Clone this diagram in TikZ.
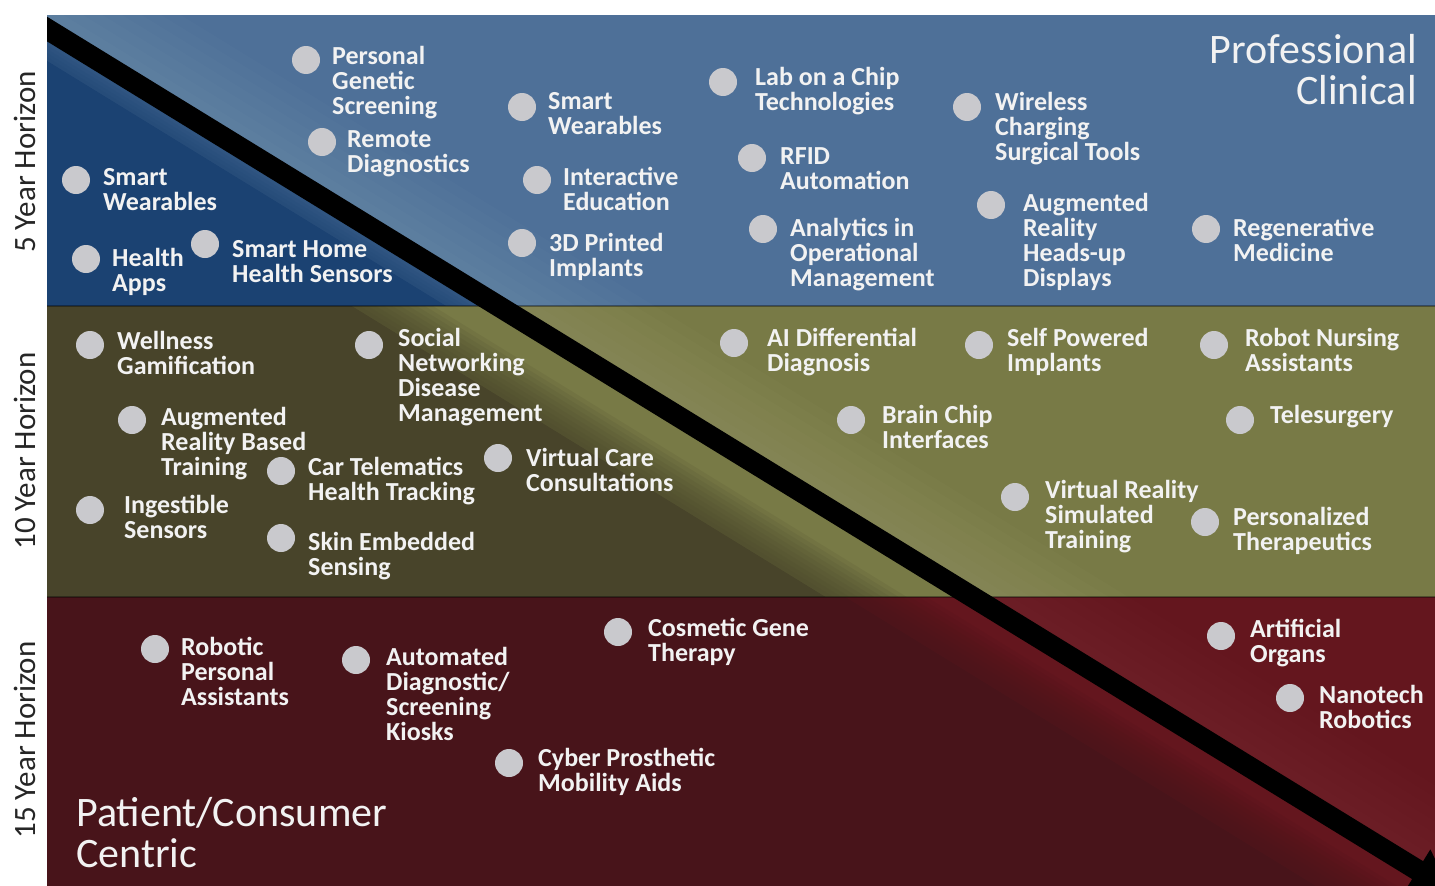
\documentclass[tikz,border=0pt]{standalone}
\usepackage{fontspec}
\setmainfont{Carlito}
\usetikzlibrary{positioning,arrows.meta,calc}
\definecolor{blueL}{HTML}{4E7098}
\definecolor{blueD}{HTML}{1B4272}
\definecolor{oliveL}{HTML}{787A46}
\definecolor{oliveD}{HTML}{48442A}
\definecolor{redL}{HTML}{64161E}
\definecolor{redD}{HTML}{48141A}
\definecolor{bulletgray}{HTML}{C9C9CD}
\definecolor{labelwhite}{HTML}{F2F2F2}
\tikzset{
  dot/.style={circle, fill=bulletgray, minimum size=28pt, inner sep=0pt},
  lbl/.style={anchor=north west, inner sep=0pt, align=left, text=labelwhite,
              font=\bfseries\fontsize{26}{25}\selectfont},
  corner/.style={inner sep=0pt, text=labelwhite, font=\fontsize{42}{41}\selectfont},
  horizon/.style={rotate=90, inner sep=0pt, text=black!85, font=\fontsize{31}{31}\selectfont},
  trend/.style={line width=21pt, -{Triangle[length=38pt,width=46pt]}},
}

\begin{document}
\begin{tikzpicture}[x=1pt, y=-1pt]
  \useasboundingbox (0,0) rectangle (1435,886);
  \clip (0,0) rectangle (1435,886);
  \fill[white] (0,0) rectangle (1435,886);

  % diagonal, used for the shaded halves
  \coordinate (la) at (40,24.7);
  \coordinate (lb) at (1445,887.5);

  % three horizon bands, dark below the diagonal
  \foreach \top/\bot/\lite/\dark/\o/\f/\g in {15/306/blueL/blueD/-8/4/0.014,
                                             306/597/oliveL/oliveD/40/5/0.014,
                                             597/886/redL/redD/28/5/0.009}{
    \begin{scope}
      \clip (47,\top) rectangle (1435,\bot);
      \fill[\lite] (47,\top) rectangle (1435,\bot);
      \foreach \k in {1,...,8}
        \fill[white, opacity=\g] (la) -- (lb) -- ($(lb)+(0,-12*\k)$) -- ($(la)+(0,-12*\k)$) -- cycle;
      \fill[\dark] ($(la)+(0,\o+10*\f)$) -- ($(lb)+(0,\o+10*\f)$) -- (1445,900) -- (40,900) -- cycle;
      \foreach \k in {0,...,9}
        \fill[\dark, opacity=0.12] ($(la)+(0,\o+\f*\k)$) -- ($(lb)+(0,\o+\f*\k)$) -- (1445,900) -- (40,900) -- cycle;
    \end{scope}
  }
  \draw[black, opacity=0.35, line width=2pt] (47,306) -- (1435,306);
  \draw[black, opacity=0.35, line width=2pt] (47,597) -- (1435,597);

  % trend arrow
  \coordinate (start) at (30,18.6);
  \coordinate (tip) at (1450,890);
  \begin{scope}
    \clip (47,15) rectangle (1435,886);
    \draw[trend] (start) -- (tip);
  \end{scope}

  % horizon labels
  \node[horizon] (h5) at (25,162) {5 Year Horizon};
  \node[horizon] (h10) at (25,451) {10 Year Horizon};
  \node[horizon] (h15) at (25,740) {15 Year Horizon};

  % sector titles
  \node[corner, anchor=north east, align=right] (prof) at (1417,34) {Professional\\Clinical};
  \node[corner, anchor=north west, align=left] (patient) at (76,797) {Patient/Consumer\\Centric};

  % technologies: dot x/y, label x/y, text
  \foreach \x/\y/\tx/\ty/\txt [count=\i] in {
      306/60/332/46/{Personal\\Genetic\\Screening},
      322/142/347/130/{Remote\\Diagnostics},
      76/180/103/168/{Smart\\Wearables},
      86/259/112/248/{Health\\Apps},
      205/244/232/240/{Smart Home\\Health Sensors},
      522/107/548/92/{Smart\\Wearables},
      537/180/563/167/{Interactive\\Education},
      522/243/549/233/{3D Printed\\Implants},
      723/82/755/67/{Lab on a Chip\\Technologies},
      752/158/780/147/{RFID\\Automation},
      763/229/790/218/{Analytics in\\Operational\\Management},
      967/107/995/92/{Wireless\\Charging\\Surgical Tools},
      991/205/1023/193/{Augmented\\Reality\\Heads-up\\Displays},
      1206/229/1233/218/{Regenerative\\Medicine},
      90/345/117/331/{Wellness\\Gamification},
      369/345/398/328/{Social\\Networking\\Disease\\Management},
      132/420/161/407/{Augmented\\Reality Based\\Training},
      281/471/308/457/{Car Telematics\\Health Tracking},
      498/458/526/448/{Virtual Care\\Consultations},
      90/510/124/495/{Ingestible\\Sensors},
      281/538/308/532/{Skin Embedded\\Sensing},
      734/343/767/328/{AI Differential\\Diagnosis},
      979/345/1007/328/{Self Powered\\Implants},
      1214/345/1245/328/{Robot Nursing\\Assistants},
      851/420/882/405/{Brain Chip\\Interfaces},
      1240/420/1270/405/{Telesurgery},
      1015/497/1045/480/{Virtual Reality\\Simulated\\Training},
      1205/522/1233/507/{Personalized\\Therapeutics},
      155/649/181/637/{Robotic\\Personal\\Assistants},
      356/660/386/647/{Automated\\Diagnostic/\\Screening\\Kiosks},
      618/632/648/618/{Cosmetic Gene\\Therapy},
      509/763/538/748/{Cyber Prosthetic\\Mobility Aids},
      1221/636/1250/619/{Artificial\\Organs},
      1290/698/1319/685/{Nanotech\\Robotics}}{
    \node[dot] (d\i) at (\x,\y) {};
    \node[lbl] (t\i) at (\tx,\ty) {\txt};
  }
\end{tikzpicture}
\end{document}
